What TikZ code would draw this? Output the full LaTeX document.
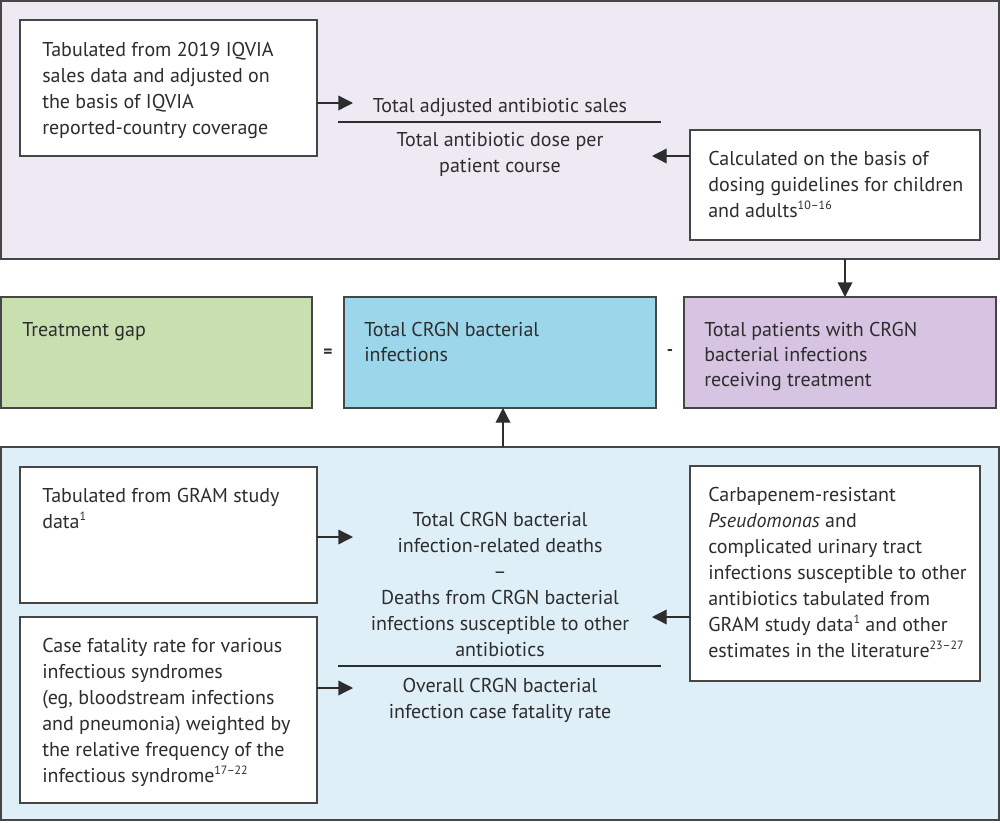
\documentclass[tikz,border=0pt]{standalone}
\usepackage{fontspec}
\setmainfont{PT Sans}
\usetikzlibrary{arrows.meta}
\definecolor{toppanel}{RGB}{237,234,243}
\definecolor{botpanel}{RGB}{222,239,247}
\definecolor{gapfill}{RGB}{200,224,176}
\definecolor{infill}{RGB}{156,214,234}
\definecolor{purfill}{RGB}{214,196,226}
\definecolor{edge}{RGB}{70,70,70}
\definecolor{ink}{RGB}{45,45,45}
\newcommand\refsup[1]{\raisebox{0.8ex}{\fontsize{9}{9}\selectfont #1}}
\begin{document}
\begin{tikzpicture}[x=0.75pt,y=-0.75pt,
  panel/.style={draw=edge,line width=1.5pt,anchor=north west,inner sep=0pt,outer sep=0pt},
  wbox/.style={draw=edge,line width=1.4pt,fill=white,anchor=north west,inner sep=0pt,outer sep=0pt},
  txt/.style={anchor=base west,align=left,inner sep=0pt,text=ink,font=\fontsize{15}{19.5}\selectfont},
  ctxt/.style={anchor=base,align=center,inner sep=0pt,text=ink,font=\fontsize{15}{19.5}\selectfont},
  arr/.style={draw=ink,line width=1pt,-{Triangle[length=11pt,width=11pt]}},
  fracrule/.style={draw=ink,line width=1pt}]
\useasboundingbox (0,0) rectangle (1000,822);
% panels
\node[panel,fill=toppanel,minimum width=748.5pt,minimum height=193.5pt] (top) at (1,1) {};
\node[panel,fill=botpanel,minimum width=748.5pt,minimum height=279.75pt] (bot) at (1,447) {};
% top boxes (text nodes anchored at the baseline of their last line)
\node[wbox,minimum width=222.75pt,minimum height=102pt] (b1) at (20,20) {};
\node[txt] (t1) at (42,134) {Tabulated from 2019 IQVIA\\sales data and adjusted on\\the basis of IQVIA\\reported-country coverage};
\node[wbox,minimum width=217.5pt,minimum height=82.5pt] (b2) at (690,130) {};
\node[txt] (t2) at (708,217) {Calculated on the basis of\\dosing guidelines for children\\and adults\refsup{10–16}};
\node[ctxt] (num1) at (500,112) {Total adjusted antibiotic sales};
\coordinate (r1a) at (338,122); \coordinate (r1b) at (661,122);
\draw[fracrule] (r1a) -- (r1b);
\node[ctxt] (den1) at (500,172) {Total antibiotic dose per\\patient course};
% middle row
\node[wbox,fill=gapfill,minimum width=233.25pt,minimum height=83.25pt] (gap) at (1,297) {};
\node[txt] (tg) at (22,336) {Treatment gap};
\node[wbox,fill=infill,minimum width=234pt,minimum height=83.25pt] (inf) at (344,297) {};
\node[txt,font=\fontsize{15}{18.75}\selectfont] (ti) at (364,361) {Total CRGN bacterial\\infections};
\node[wbox,fill=purfill,minimum width=234pt,minimum height=83.25pt] (pur) at (684,297) {};
\node[txt,font=\fontsize{15}{18.75}\selectfont] (tp) at (704,386) {Total patients with CRGN\\bacterial infections\\receiving treatment};
\node[text=ink,inner sep=0pt,font=\fontsize{13}{13}\selectfont\bfseries] (eq) at (328,353) {=};
\node[text=ink,inner sep=0pt,font=\fontsize{13}{13}\selectfont\bfseries] (mi) at (670,353) {-};
% bottom boxes
\node[wbox,minimum width=222.75pt,minimum height=102pt] (bA) at (20,467) {};
\node[txt] (tA) at (42,528) {Tabulated from GRAM study\\data\refsup{1}};
\node[wbox,minimum width=222.75pt,minimum height=139.5pt] (bB) at (20,617) {};
\node[txt] (tB) at (42,782) {Case fatality rate for various\\infectious syndromes\\(eg, bloodstream infections\\and pneumonia) weighted by\\the relative frequency of the\\infectious syndrome\refsup{17–22}};
\node[wbox,minimum width=217.5pt,minimum height=161.25pt] (bC) at (690,466) {};
\node[txt] (tC) at (708,657) {Carbapenem-resistant\\\textit{Pseudomonas} and\\complicated urinary tract\\infections susceptible to other\\antibiotics tabulated from\\GRAM study data\refsup{1} and other\\estimates in the literature\refsup{23–27}};
\node[ctxt] (num2) at (500,656) {Total CRGN bacterial\\infection-related deaths\\–\\Deaths from CRGN bacterial\\infections susceptible to other\\antibiotics};
\coordinate (r2a) at (338,666); \coordinate (r2b) at (661,666);
\draw[fracrule] (r2a) -- (r2b);
\node[ctxt] (den2) at (500,718) {Overall CRGN bacterial\\infection case fatality rate};
% arrows
\coordinate (a1) at (353,103);
\draw[arr] (b1.east |- a1) -- (a1);
\coordinate (a2) at (652,156);
\draw[arr] (b2.west |- a2) -- (a2);
\coordinate (a3) at (845,0);
\draw[arr] (top.south -| a3) -- (pur.north -| a3);
\coordinate (a7) at (503,0);
\draw[arr] (bot.north -| a7) -- (inf.south -| a7);
\coordinate (a4) at (353,537);
\draw[arr] (bA.east |- a4) -- (a4);
\coordinate (a5) at (353,688);
\draw[arr] (bB.east |- a5) -- (a5);
\coordinate (a6) at (652,617);
\draw[arr] (bC.west |- a6) -- (a6);
\end{tikzpicture}
\end{document}
